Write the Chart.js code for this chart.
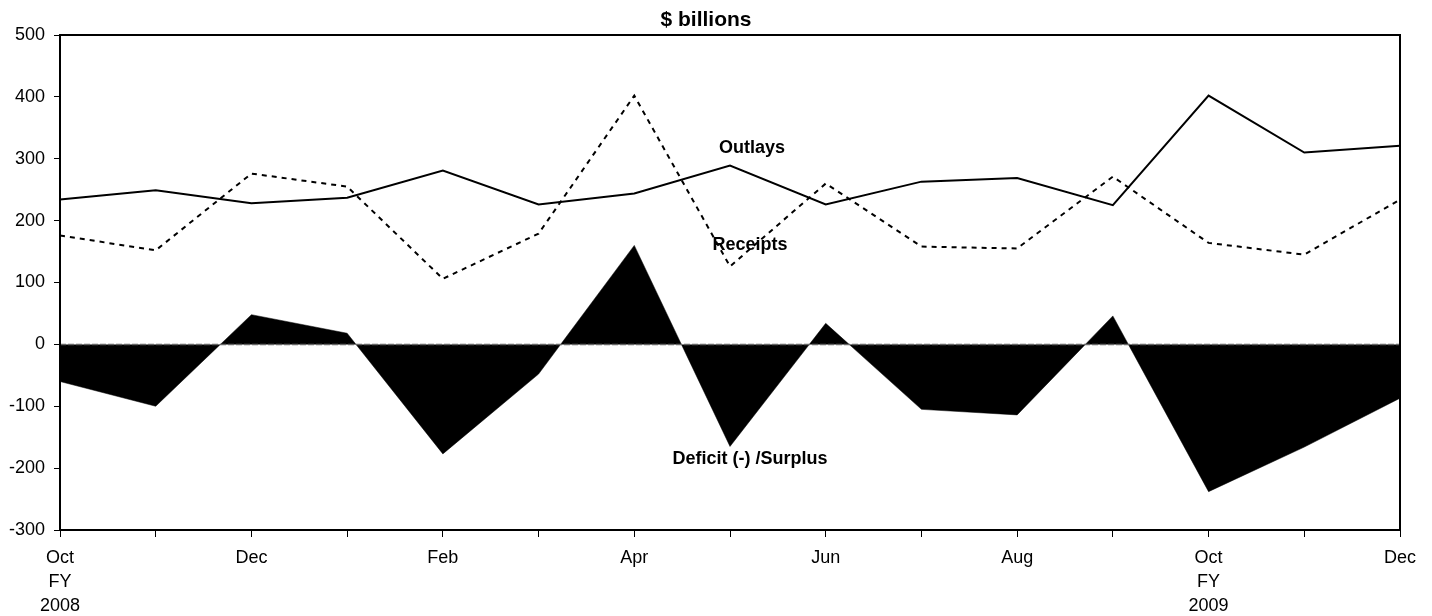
<!DOCTYPE html>
<html>
<head>
<meta charset="utf-8">
<script src="https://cdn.jsdelivr.net/npm/chart.js@4.4.1/dist/chart.umd.min.js"></script>
<style>
  html, body { margin: 0; padding: 0; background: #fff; }
  #wrap { width: 1432px; height: 616px; position: relative; }
</style>
</head>
<body>
<div id="wrap"><canvas id="c" width="1432" height="616"></canvas></div>
<script>
const months = ['Oct','Nov','Dec','Jan','Feb','Mar','Apr','May','Jun','Jul','Aug','Sep','Oct','Nov','Dec'];
const tickLabels = [['Oct','FY','2008'],'','Dec','','Feb','','Apr','','Jun','','Aug','',['Oct','FY','2009'],'','Dec'];
const outlays  = [234, 249, 228, 237, 281, 226, 244, 289, 226, 263, 269, 225, 402, 310, 321];
const receipts = [176, 152, 276, 255, 106, 179, 402, 126, 260, 158, 155, 271, 164, 145, 234];
const deficit  = [-60, -100, 48, 18, -177, -48, 160, -165, 34, -105, -114, 46, -238, -166, -87];
const zeroLine = [0,0,0,0,0,0,0,0,0,0,0,0,0,0,0];
const yTicks = [500, 400, 300, 200, 100, 0, -100, -200, -300];
const titleText = '$ billions';
const seriesLabels = [
  { text: 'Outlays', x: 7.23, y: 318 },
  { text: 'Receipts', x: 7.21, y: 160 },
  { text: 'Deficit (-) /Surplus', x: 7.21, y: -186 }
];

const FONT = 'Arial, "Liberation Sans", sans-serif';

const decorPlugin = {
  id: 'decor',
  afterDatasetsDraw(chart) {
    const { ctx, chartArea: a, scales } = chart;
    ctx.save();
    ctx.strokeStyle = '#000';
    ctx.lineWidth = 2;
    ctx.strokeRect(a.left, a.top, a.right - a.left, a.bottom - a.top);
    ctx.fillStyle = '#000';
    ctx.font = 'bold 18px ' + FONT;
    ctx.textAlign = 'center';
    ctx.textBaseline = 'middle';
    seriesLabels.forEach(l => {
      ctx.fillText(l.text, scales.x.getPixelForValue(l.x), scales.y.getPixelForValue(l.y));
    });
    ctx.font = 'bold 21px ' + FONT;
    ctx.fillText(titleText, 706, 20);
    ctx.restore();
  }
};

new Chart(document.getElementById('c'), {
  type: 'line',
  data: {
    labels: months,
    datasets: [
      { label: 'Outlays', data: outlays, borderColor: '#000', borderWidth: 2, pointRadius: 0, fill: false, tension: 0 },
      { label: 'Receipts', data: receipts, borderColor: '#000', borderWidth: 2, borderDash: [5, 5], pointRadius: 0, fill: false, tension: 0 },
      { label: 'Zero', data: zeroLine, borderColor: '#666', borderWidth: 1.5, borderDash: [6, 2], pointRadius: 0, fill: false },
      { label: 'Deficit (-) /Surplus', data: deficit, borderColor: '#000', borderWidth: 0.5, backgroundColor: '#000', pointRadius: 0, fill: 'origin', tension: 0 }
    ]
  },
  options: {
    responsive: false,
    animation: false,
    devicePixelRatio: 1,
    layout: { padding: { left: 0, right: 32, top: 35, bottom: 0 } },
    plugins: { legend: { display: false }, title: { display: false }, tooltip: { enabled: false } },
    scales: {
      x: {
        type: 'category',
        offset: false,
        grid: { display: true, drawOnChartArea: false, drawTicks: true, tickLength: 7, color: '#000', lineWidth: 1 },
        border: { display: true, color: '#000', width: 2 },
        ticks: {
          autoSkip: false, maxRotation: 0, minRotation: 0, padding: 9,
          color: '#000', font: { family: FONT, size: 18, lineHeight: 1.3333 },
          callback: (v, i) => tickLabels[i]
        },
        afterFit: s => { s.height = 86; }
      },
      y: {
        min: -300, max: 500,
        afterBuildTicks: s => { s.ticks = yTicks.map(v => ({ value: v })); },
        grid: { display: true, drawOnChartArea: false, drawTicks: true, tickLength: 6, color: '#000', lineWidth: 1 },
        border: { display: true, color: '#000', width: 2 },
        ticks: { padding: 9, color: '#000', font: { family: FONT, size: 18 } },
        afterFit: s => { s.width = 60; }
      }
    }
  },
  plugins: [decorPlugin]
});
</script>
</body>
</html>
